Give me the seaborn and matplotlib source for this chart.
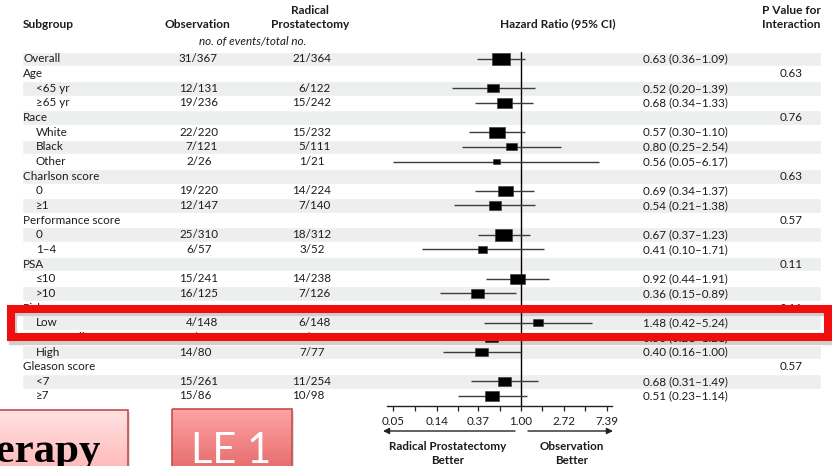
import numpy as np
import pandas as pd
import matplotlib
matplotlib.use("Agg")
import matplotlib.pyplot as plt
import seaborn as sns
from matplotlib.patches import Rectangle
from matplotlib.markers import MarkerStyle

# ---------------- data ----------------
labels = ["Overall", "Age", "<65 yr", "≥65 yr", "Race", "White", "Black", "Other",
          "Charlson score", "0", "≥1", "Performance score", "0", "1–4", "PSA", "≤10", ">10",
          "Risk", "Low", "Intermediate", "High", "Gleason score", "<7", "≥7"]
indent = [0, 0, 1, 1, 0, 1, 1, 1, 0, 1, 1, 0, 1, 1, 0, 1, 1, 0, 1, 1, 1, 0, 1, 1]
obs_counts = ["31/367", "", "12/131", "19/236", "", "22/220", "7/121", "2/26", "",
              "19/220", "12/147", "", "25/310", "6/57", "", "15/241", "16/125", "",
              "4/148", "13/139", "14/80", "", "15/261", "15/86"]
rp_counts = ["21/364", "", "6/122", "15/242", "", "15/232", "5/111", "1/21", "",
             "14/224", "7/140", "", "18/312", "3/52", "", "14/238", "7/126", "",
             "6/148", "8/129", "7/77", "", "11/254", "10/98"]
nan = np.nan
hr = [0.63, nan, 0.52, 0.68, nan, 0.57, 0.80, 0.56, nan, 0.69, 0.54, nan, 0.67, 0.41,
      nan, 0.92, 0.36, nan, 1.48, 0.50, 0.40, nan, 0.68, 0.51]
ci_lo = [0.36, nan, 0.20, 0.34, nan, 0.30, 0.25, 0.05, nan, 0.34, 0.21, nan, 0.37, 0.10,
         nan, 0.44, 0.15, nan, 0.42, 0.21, 0.16, nan, 0.31, 0.23]
ci_hi = [1.09, nan, 1.39, 1.33, nan, 1.10, 2.54, 6.17, nan, 1.37, 1.38, nan, 1.23, 1.71,
         nan, 1.91, 0.89, nan, 5.24, 1.21, 1.00, nan, 1.49, 1.14]
p_interaction = ["", "0.63", "", "", "0.76", "", "", "", "0.63", "", "", "0.57", "", "",
                 "0.11", "", "", "0.11", "", "", "", "0.57", "", ""]
tick_values = [0.05, 0.14, 0.37, 1.00, 2.72, 7.39]
tick_labels = ["0.05", "0.14", "0.37", "1.00", "2.72", "7.39"]

# ---------------- setup ----------------
sns.set_theme(style="white")
plt.rcParams["font.family"] = ["Lato", "DejaVu Sans"]
TXT = "#1E1B1C"
STRIPE = "#EDEFEE"

W, H = 832, 466
fig = plt.figure(figsize=(W / 100, H / 100), dpi=100)
fig.patch.set_facecolor("white")

ROW0, ROWH = 59.0, 14.65          # pixel centre of first row, row pitch
def py(p):                         # pixel y -> row units
    return (p - ROW0) / ROWH

n = len(labels)
rows = np.arange(n)

# background / text axes in pixel-x, row-y units
bg = fig.add_axes([0, 0, 1, 1])
bg.set_xlim(0, W)
bg.set_ylim(py(H), py(0))
bg.axis("off")

# stripes
even = rows[rows % 2 == 0]
bg.barh(even, width=799, left=22, height=1.0, color=STRIPE, zorder=0)

FS = 8.4
HFS = 8.6
# headers
bg.text(23, py(24), "Subgroup", fontsize=HFS, fontweight="bold", color=TXT, ha="left", va="center")
bg.text(197, py(24), "Observation", fontsize=HFS, fontweight="bold", color=TXT, ha="center", va="center")
bg.text(310, py(10), "Radical", fontsize=HFS, fontweight="bold", color=TXT, ha="center", va="center")
bg.text(310, py(24), "Prostatectomy", fontsize=HFS, fontweight="bold", color=TXT, ha="center", va="center")
bg.text(253, py(42), "no. of events/total no.", fontsize=FS, style="italic", color=TXT, ha="center", va="center")
bg.text(558, py(24), "Hazard Ratio (95% CI)", fontsize=HFS, fontweight="bold", color=TXT, ha="center", va="center")
bg.text(791, py(10), "P Value for", fontsize=HFS, fontweight="bold", color=TXT, ha="center", va="center")
bg.text(791, py(24), "Interaction", fontsize=HFS, fontweight="bold", color=TXT, ha="center", va="center")

DIG = 6.3
for i in rows:
    bg.text(23 + 13 * indent[i], i, labels[i], fontsize=FS, color=TXT, ha="left", va="center")
    if obs_counts[i]:
        den = obs_counts[i].split("/")[1]
        bg.text(218 - DIG * (3 - len(den)), i, obs_counts[i], fontsize=FS, color=TXT, ha="right", va="center")
    if rp_counts[i]:
        den = rp_counts[i].split("/")[1]
        bg.text(331 - DIG * (3 - len(den)), i, rp_counts[i], fontsize=FS, color=TXT, ha="right", va="center")
    if not np.isnan(hr[i]):
        bg.text(643, i, f"{hr[i]:.2f} ({ci_lo[i]:.2f}–{ci_hi[i]:.2f})", fontsize=FS, color=TXT,
                ha="left", va="center")
    if p_interaction[i]:
        bg.text(791, i, p_interaction[i], fontsize=FS, color=TXT, ha="center", va="center")

# ---------------- forest axes ----------------
PX_PER_LN = 42.8
X_ONE = 521.0
x_left, x_right = 387.0, 612.0
y_top, y_bot = 51.7, 406.0
ax = fig.add_axes([x_left / W, 1 - y_bot / H, (x_right - x_left) / W, (y_bot - y_top) / H])
ax.patch.set_alpha(0)
ax.set_xscale("log")
ax.set_xlim(np.exp((x_left - X_ONE) / PX_PER_LN), np.exp((x_right - X_ONE) / PX_PER_LN))
ax.set_ylim(py(y_bot), py(y_top))

df = pd.DataFrame({"row": rows, "hr": hr, "lo": ci_lo, "hi": ci_hi,
                   "obs": obs_counts, "rp": rp_counts}).dropna(subset=["hr"])
events = np.array([int(a.split("/")[0]) + int(b.split("/")[0]) for a, b in zip(df["obs"], df["rp"])])
width_px = 3.0 + 2.1 * np.sqrt(events)
df["box_s"] = (width_px * 72 / 100) ** 2

ax.hlines(df["row"], df["lo"], df["hi"], color="#3c3c3c", lw=1.0, zorder=2, clip_on=False)
ax.axvline(1.0, color="black", lw=1.0, zorder=1)

rect_marker = MarkerStyle(np.array([[-0.5, -0.34], [0.5, -0.34], [0.5, 0.34], [-0.5, 0.34], [-0.5, -0.34]]))
smin, smax = df["box_s"].min(), df["box_s"].max()
sns.scatterplot(data=df, x="hr", y="row", size="box_s", sizes=(smin, smax), size_norm=(smin, smax),
                marker=rect_marker, color="black", edgecolor="#333333", linewidth=0.4,
                legend=False, ax=ax, zorder=3, clip_on=False)
ax.set_ylim(py(y_bot), py(y_top))

for s in ["left", "right", "top"]:
    ax.spines[s].set_visible(False)
ax.spines["bottom"].set_color("#222222")
ax.spines["bottom"].set_linewidth(1.0)
ax.set_yticks([])
ax.set_xlabel("")
ax.set_ylabel("")
ax.set_xticks(tick_values)
ax.set_xticklabels(tick_labels)
ax.xaxis.set_minor_locator(matplotlib.ticker.FixedLocator(
    np.sqrt(np.array(tick_values[:-1]) * np.array(tick_values[1:]))))
ax.xaxis.set_minor_formatter(matplotlib.ticker.NullFormatter())
ax.tick_params(axis="x", which="both", direction="out", length=3.5, width=0.9, color="#222222",
               bottom=True, labelsize=FS, labelcolor=TXT, pad=3.5)
ax.grid(False)

# arrows and direction labels
arrow_y = py(431)
bg.annotate("", xy=(383, arrow_y), xytext=(515, arrow_y),
            arrowprops=dict(arrowstyle="-|>", color="#222222", lw=1.0, mutation_scale=9,
                            shrinkA=0, shrinkB=0))
bg.annotate("", xy=(613, arrow_y), xytext=(528, arrow_y),
            arrowprops=dict(arrowstyle="-|>", color="#222222", lw=1.0, mutation_scale=9,
                            shrinkA=0, shrinkB=0))
bg.text(448, py(447), "Radical Prostatectomy", fontsize=8.4, fontweight="bold", color=TXT, ha="center", va="center")
bg.text(448, py(460), "Better", fontsize=8.4, fontweight="bold", color=TXT, ha="center", va="center")
bg.text(572, py(447), "Observation", fontsize=8.4, fontweight="bold", color=TXT, ha="center", va="center")
bg.text(572, py(460), "Better", fontsize=8.4, fontweight="bold", color=TXT, ha="center", va="center")

# ---------------- overlay (slide elements) ----------------
ov = fig.add_axes([0, 0, 1, 1])
ov.patch.set_alpha(0)
ov.set_xlim(0, W)
ov.set_ylim(H, 0)
ov.axis("off")

# red highlight box with soft shadow
ov.add_patch(Rectangle((13, 312), 817, 29, fill=False, ec="#00000030", lw=6, zorder=5))
ov.add_patch(Rectangle((11, 309), 817, 27.5, fill=False, ec="#F20D0D", lw=5.8, zorder=6))

def grad_box(x0, y0, w, h, top, bot, edge):
    g = np.linspace(0, 1, 64)[:, None, None]
    c0 = np.array(matplotlib.colors.to_rgb(top))[None, None, :]
    c1 = np.array(matplotlib.colors.to_rgb(bot))[None, None, :]
    img = c0 * (1 - g) + c1 * g
    ov.add_patch(Rectangle((x0 + 2, y0 + 2), w, h, fc="#00000022", ec="none", zorder=6))
    ov.imshow(img, extent=(x0, x0 + w, y0 + h, y0), aspect="auto", zorder=7, interpolation="bilinear")
    ov.add_patch(Rectangle((x0, y0), w, h, fill=False, ec=edge, lw=1.2, zorder=8))

grad_box(-5, 410, 133, 70, "#FFE2E2", "#FFB2B2", "#C0504D")
grad_box(172, 409, 120, 70, "#FFA3A3", "#E26464", "#C0504D")
ov.set_xlim(0, W)
ov.set_ylim(H, 0)
ov.text(101, 462, "Therapy", family=["Liberation Serif"], fontweight="bold", fontsize=31,
        color="black", ha="right", va="baseline", zorder=9)
ov.text(231, 463, "LE 1", family=["Lato", "DejaVu Sans"], fontsize=30, color="white",
        ha="center", va="baseline", zorder=9)

fig.savefig("out.png", dpi=100, facecolor="white")
